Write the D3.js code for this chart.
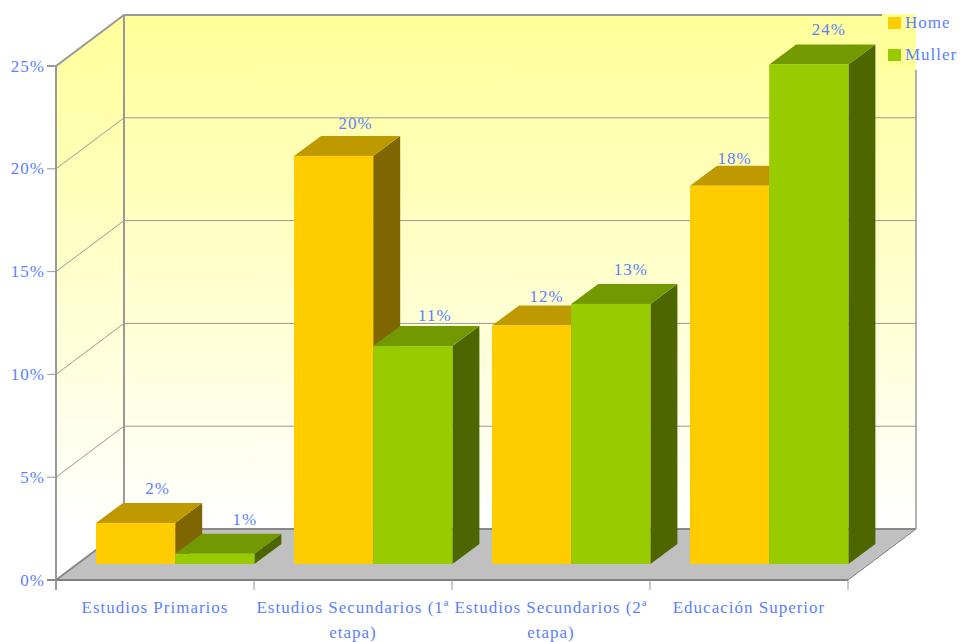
<!DOCTYPE html>
<html><head><meta charset="utf-8">
<script src="https://cdn.jsdelivr.net/npm/d3@7"></script>
<style>html,body{margin:0;padding:0;background:#fff}svg{display:block}
text{font-family:"Liberation Serif",serif;fill:#5b7fff;font-size:17px;letter-spacing:1px}</style>
</head><body><div id="chart"></div>
<script>
const categories = ["Estudios Primarios","Estudios Secundarios (1ª etapa)","Estudios Secundarios (2ª etapa)","Educación Superior"];
const seriesNames = ["Home","Muller"];
const homeValues = [2.0,19.85,11.6,18.4];
const mullerValues = [0.5,10.6,12.65,24.3];
const homeLabels = ["2%","20%","12%","18%"];
const mullerLabels = ["1%","11%","13%","24%"];
const yTicks = [0,5,10,15,20,25];

const W=960,H=642;
const svg=d3.select("#chart").append("svg").attr("width",W).attr("height",H);
const x=d3.scaleBand().domain(categories).range([56,848]);
const y=d3.scaleLinear().domain([0,25]).range([580,66]);
const inner=d3.scaleBand().domain(seriesNames).range([0,x.bandwidth()*0.8]);
const wall={dx:68,dy:-51}, depth={dx:27,dy:-20}, base={dx:40,dy:-16};
const front=["#ffcc00","#99cc00"],top_=["#bf9900","#739900"],side=["#806600","#4d6600"];
const L=56,R=848,Y0=y(0),Y1=y(25),grey="#999999";
const legendLeft=882, legendBottom=70;

const g=svg.append("defs").append("linearGradient").attr("id","bg").attr("gradientUnits","userSpaceOnUse")
 .attr("x1",0).attr("x2",0).attr("y1",Y1+wall.dy).attr("y2",Y0+wall.dy);
g.append("stop").attr("offset",0).attr("stop-color","#ffff99");
g.append("stop").attr("offset",1).attr("stop-color","#ffffff");
const poly=(pts)=>pts.map(p=>p.join(",")).join(" ");

// walls and floor
svg.append("polygon").attr("points",poly([[L+wall.dx,Y1+wall.dy],[R+wall.dx,Y1+wall.dy],[R+wall.dx,Y0+wall.dy],[L+wall.dx,Y0+wall.dy]])).attr("fill","url(#bg)");
svg.append("polygon").attr("points",poly([[L,Y1],[L+wall.dx,Y1+wall.dy],[L+wall.dx,Y0+wall.dy],[L,Y0]])).attr("fill","url(#bg)");
svg.append("polygon").attr("points",poly([[L,Y0],[L+wall.dx,Y0+wall.dy],[R+wall.dx,Y0+wall.dy],[R,Y0]])).attr("fill","#c0c0c0");

// legend background sits behind the frame's cut-off lines
svg.append("rect").attr("x",legendLeft).attr("y",14).attr("width",R+wall.dx-legendLeft).attr("height",legendBottom-14).attr("fill","#ffff99");

// grid
yTicks.forEach(t=>{
  const endX=t===25?legendLeft:R+wall.dx;
  svg.append("polyline").attr("points",poly([[L-9,y(t)],[L,y(t)],[L+wall.dx,y(t)+wall.dy],[endX,y(t)+wall.dy]]))
   .attr("fill","none").attr("stroke",t===0?"#888":grey).attr("stroke-width",t===25||t===0?2:1);
});
svg.append("line").attr("x1",L).attr("x2",L).attr("y1",Y1).attr("y2",Y0+10).attr("stroke",grey).attr("stroke-width",2);
svg.append("line").attr("x1",L+wall.dx).attr("x2",L+wall.dx).attr("y1",Y1+wall.dy).attr("y2",Y0+wall.dy).attr("stroke",grey).attr("stroke-width",2);
svg.append("line").attr("x1",R+wall.dx).attr("x2",R+wall.dx).attr("y1",legendBottom).attr("y2",Y0+wall.dy).attr("stroke",grey).attr("stroke-width",1.5);
svg.append("line").attr("x1",L).attr("x2",R).attr("y1",Y0).attr("y2",Y0).attr("stroke","#808080").attr("stroke-width",2);
svg.append("line").attr("x1",R).attr("x2",R+wall.dx).attr("y1",Y0).attr("y2",Y0+wall.dy).attr("stroke","#808080").attr("stroke-width",1);
d3.range(5).forEach(i=>{const px=L+i*x.bandwidth();
  svg.append("line").attr("x1",px).attr("x2",px).attr("y1",Y0).attr("y2",Y0+10).attr("stroke",grey);});

// bars
const zero=y(0);
categories.forEach((c,ci)=>{
  [homeValues,mullerValues].forEach((vals,si)=>{
    const x0=x(c)+base.dx+inner(seriesNames[si]), x1=x0+inner.bandwidth();
    const yb=zero+base.dy, yt=y(vals[ci])+base.dy;
    const b=svg.append("g");
    b.append("polygon").attr("points",poly([[x1,yb],[x1+depth.dx,yb+depth.dy],[x1+depth.dx,yt+depth.dy],[x1,yt]])).attr("fill",side[si]);
    b.append("polygon").attr("points",poly([[x0,yt],[x1,yt],[x1+depth.dx,yt+depth.dy],[x0+depth.dx,yt+depth.dy]])).attr("fill",top_[si]);
    b.append("rect").attr("x",x0).attr("y",yt).attr("width",x1-x0).attr("height",yb-yt).attr("fill",front[si]);
  });
});

// value labels (offsets from the bar's top-centre)
const labelShiftX=[[22,30],[22,22],[15,20],[5,20]];
const labelShiftY=[[-29,-29],[-27,-25],[-24,-29],[-22,-29]];
categories.forEach((c,ci)=>{
  [homeLabels,mullerLabels].forEach((labs,si)=>{
    const cx=x(c)+base.dx+inner(seriesNames[si])+inner.bandwidth()/2+labelShiftX[ci][si];
    const yt=y([homeValues,mullerValues][si][ci])+base.dy;
    svg.append("text").attr("x",cx).attr("y",yt+labelShiftY[ci][si]).attr("text-anchor","middle").text(labs[ci]);
  });
});

// y tick labels
yTicks.forEach(t=>svg.append("text").attr("x",45).attr("y",y(t)+5.5).attr("text-anchor","end").text(t+"%"));

// category labels
const catLines=[["Estudios Primarios"],["Estudios Secundarios (1ª","etapa)"],["Estudios Secundarios (2ª","etapa)"],["Educación Superior"]];
categories.forEach((c,i)=>{
  catLines[i].forEach((ln,j)=>svg.append("text").attr("x",x(c)+x.bandwidth()/2).attr("y",613+j*25).attr("text-anchor","middle").text(ln));
});

// legend
seriesNames.forEach((s,i)=>{
  svg.append("rect").attr("x",888).attr("y",17+i*32).attr("width",13).attr("height",12).attr("fill",front[i]);
  svg.append("text").attr("x",905).attr("y",28+i*32).text(s);
});
</script></body></html>
